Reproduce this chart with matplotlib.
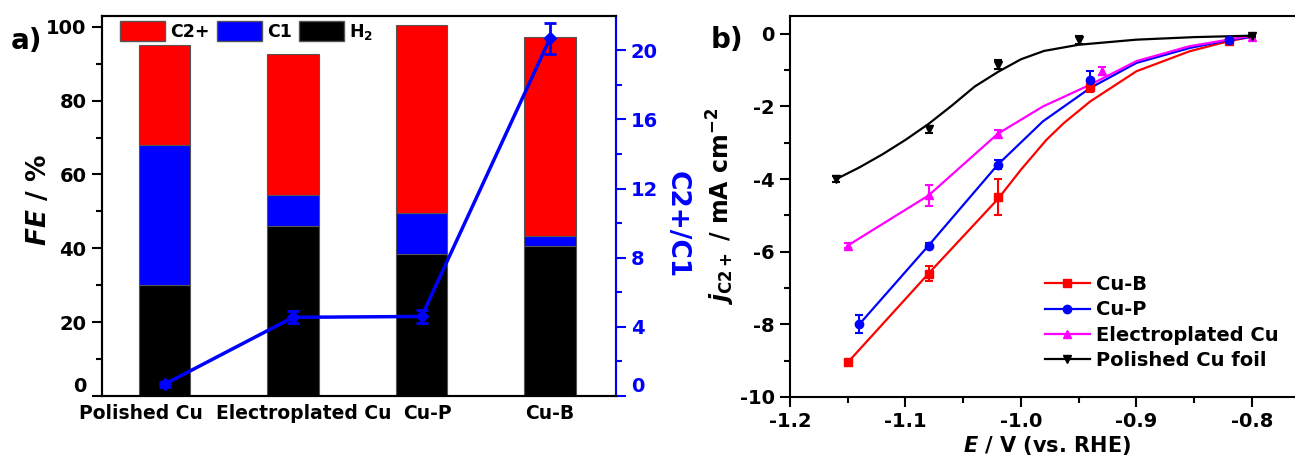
import numpy as np
import matplotlib.pyplot as plt
from matplotlib.lines import Line2D
from matplotlib.patches import Patch
from matplotlib.transforms import ScaledTranslation

plt.rcParams['font.family'] = 'DejaVu Sans'
plt.rcParams['font.weight'] = 'bold'
plt.rcParams['axes.labelweight'] = 'bold'
plt.rcParams['mathtext.fontset'] = 'custom'
plt.rcParams['mathtext.rm'] = 'DejaVu Sans:bold'
plt.rcParams['mathtext.bf'] = 'DejaVu Sans:bold'
plt.rcParams['mathtext.it'] = 'DejaVu Sans:italic:bold'

# ---- panel a: Faradaic efficiency and C2+/C1 ratio ----
samples = ['Polished Cu', 'Electroplated Cu', 'Cu-P', 'Cu-B']
fe_h2 = [30, 46, 38.5, 40.7]
fe_c1 = [38, 8.5, 11, 2.5]
fe_c2 = [27, 38, 51, 54]
ratio = [0.68, 4.55, 4.6, 20.7]
ratio_err = [0.15, 0.35, 0.35, 0.9]
label_shift = [-24, 11, 6, 0]  # px offsets of the category labels

# ---- panel b: partial current density of C2+ ----
cuB_E = [-1.15, -1.08, -1.02, -0.94, -0.82]
cuB_j = [-9.05, -6.6, -4.5, -1.45, -0.2]
cuB_err = [0.1, 0.2, 0.5, 0.15, 0.05]
cuP_E = [-1.14, -1.08, -1.02, -0.94, -0.82]
cuP_j = [-8.0, -5.83, -3.6, -1.27, -0.18]
cuP_err = [0.25, 0.08, 0.12, 0.25, 0.05]
elec_E = [-1.15, -1.08, -1.02, -0.93, -0.80]
elec_j = [-5.83, -4.45, -2.75, -1.02, -0.08]
elec_err = [0.08, 0.3, 0.1, 0.1, 0.03]
pol_E = [-1.16, -1.08, -1.02, -0.95, -0.80]
pol_j = [-4.0, -2.63, -0.85, -0.17, -0.05]
pol_err = [0.08, 0.1, 0.12, 0.1, 0.03]

# smoothed guide curves as drawn in the figure
cuB_curve_E = [-1.15, -1.08, -1.02, -1.0, -0.978, -0.963, -0.94, -0.9, -0.854, -0.82, -0.8]
cuB_curve_j = [-9.05, -6.6, -4.55, -3.74, -2.92, -2.46, -1.86, -1.03, -0.48, -0.2, -0.08]
cuP_curve_E = [-1.14, -1.08, -1.02, -0.981, -0.94, -0.9, -0.854, -0.82, -0.8]
cuP_curve_j = [-8.0, -5.83, -3.6, -2.41, -1.49, -0.8, -0.39, -0.17, -0.08]
elec_curve_E = [-1.15, -1.08, -1.02, -0.981, -0.94, -0.9, -0.854, -0.8]
elec_curve_j = [-5.83, -4.45, -2.75, -2.0, -1.4, -0.75, -0.34, -0.05]
pol_curve_E = [-1.16, -1.14, -1.12, -1.10, -1.08, -1.06, -1.04, -1.02, -1.00,
               -0.98, -0.95, -0.90, -0.85, -0.80]
pol_curve_j = [-4.0, -3.68, -3.32, -2.92, -2.48, -1.98, -1.45, -1.05, -0.7,
               -0.47, -0.3, -0.16, -0.09, -0.05]

fig = plt.figure(figsize=(12.95, 4.59), dpi=100)

# ================= panel a =================
ax = fig.add_axes([0.0785, 0.1373, 0.3969, 0.8285])
x = np.arange(1, len(samples) + 1)
w = 0.4
ec = '#555555'
ax.bar(x, fe_h2, w, color='black', edgecolor=ec, linewidth=0.8)
ax.bar(x, fe_c1, w, bottom=fe_h2, color='#0000FF', edgecolor=ec, linewidth=0.8)
ax.bar(x, fe_c2, w, bottom=np.add(fe_h2, fe_c1), color='#FF0000', edgecolor=ec, linewidth=0.8)
ax.set_xlim(0.51, 4.51)
ax.set_ylim(0, 103)
ax.set_yticks([0, 20, 40, 60, 80, 100])
ax.set_yticks([10, 30, 50, 70, 90], minor=True)
ax.set_xticks(x)
ax.set_xticklabels(samples, fontsize=13.5)
ax.tick_params(axis='x', length=0, pad=6)
ax.tick_params(axis='y', which='major', direction='out', length=7, width=1.5, labelsize=14, pad=4)
ax.tick_params(axis='y', which='minor', direction='out', length=4, width=1.5)
for t, dx in zip(ax.get_xticklabels(), label_shift):
    t.set_transform(t.get_transform() + ScaledTranslation(dx / 100, 0, fig.dpi_scale_trans))
for sp in ax.spines.values():
    sp.set_linewidth(1.5)
ax.set_ylabel(r'$\mathit{FE}$ / %', fontsize=19)
ax.yaxis.set_label_coords(-0.097, 0.515)
ax.yaxis.get_major_ticks()[0].label1.set_verticalalignment('bottom')

leg_handles = [Patch(facecolor='#FF0000', edgecolor=ec),
               Patch(facecolor='#0000FF', edgecolor=ec),
               Patch(facecolor='black', edgecolor=ec)]
ax.legend(leg_handles, ['C2+', 'C1', r'H$_2$'], ncol=3, fontsize=12.5, frameon=False,
          loc='upper left', bbox_to_anchor=(0.036, 0.985), borderpad=0, borderaxespad=0,
          handlelength=2.6, handleheight=1.35, handletextpad=0.3, columnspacing=0.4)

ax2 = ax.twinx()
ax2.errorbar(x, ratio, yerr=ratio_err, color='#0000FF', marker='D', ms=6, lw=2.5,
             capsize=4, capthick=2, elinewidth=2)
ax2.set_ylim(0, 22)
ax2.set_yticks([0, 4, 8, 12, 16, 20])
ax2.set_yticks([2, 6, 10, 14, 18], minor=True)
ax2.tick_params(axis='y', which='major', direction='out', length=7, width=1.5,
                labelsize=14, colors='#0000FF', pad=4)
ax2.tick_params(axis='y', which='minor', direction='out', length=4, width=1.5, colors='#0000FF')
for sp in ax2.spines.values():
    sp.set_linewidth(1.5)
ax2.spines['right'].set_color('#0000FF')
ax2.set_ylabel('C2+/C1', fontsize=19, color='#0000FF', rotation=270, va='bottom')
ax2.yaxis.set_label_coords(1.094, 0.45)
ax2.yaxis.get_major_ticks()[0].label2.set_verticalalignment('bottom')

fig.text(27 / 1295, 1 - 41 / 459, 'a)', fontsize=20, ha='center', va='center')

# ================= panel b =================
bx = fig.add_axes([0.6100, 0.1351, 0.3969, 0.8307])
series = [
    ('Cu-B', cuB_E, cuB_j, cuB_err, cuB_curve_E, cuB_curve_j, '#FF0000', 's'),
    ('Cu-P', cuP_E, cuP_j, cuP_err, cuP_curve_E, cuP_curve_j, '#0000FF', 'o'),
    ('Electroplated Cu', elec_E, elec_j, elec_err, elec_curve_E, elec_curve_j, '#FF00FF', '^'),
    ('Polished Cu foil', pol_E, pol_j, pol_err, pol_curve_E, pol_curve_j, 'black', 'v'),
]
handles = []
for name, E, j, err, cE, cj, col, mk in series:
    bx.plot(cE, cj, color=col, lw=1.6)
    bx.errorbar(E, j, yerr=err, fmt=mk, color=col, ms=6, capsize=3,
                capthick=1.5, elinewidth=1.5)
    handles.append(Line2D([], [], color=col, marker=mk, ms=6, lw=1.6))

bx.set_xlim(-1.2, -0.755)
bx.set_ylim(-10, 0.5)
bx.set_xticks([-1.2, -1.1, -1.0, -0.9, -0.8])
bx.set_xticks([-1.15, -1.05, -0.95, -0.85], minor=True)
bx.set_yticks([-10, -8, -6, -4, -2, 0])
bx.set_yticks([-9, -7, -5, -3, -1], minor=True)
bx.set_xticklabels(['-1.2', '-1.1', '-1.0', '-0.9', '-0.8'])
bx.set_yticklabels(['-10', '-8', '-6', '-4', '-2', '0'])
bx.tick_params(which='major', direction='out', length=7, width=1.5, labelsize=14, pad=4)
bx.tick_params(which='minor', direction='out', length=4, width=1.5)
for sp in bx.spines.values():
    sp.set_linewidth(1.5)
bx.set_xlabel(r'$\mathit{E}$ / V (vs. RHE)', fontsize=15, labelpad=2)
bx.set_ylabel(r'$\mathit{j}_{\mathrm{C2+}}$ / mA cm$^{\mathrm{-2}}$', fontsize=17)
bx.yaxis.set_label_coords(-0.103, 0.5)
bx.legend(handles, [s[0] for s in series], fontsize=14, frameon=False,
          loc='upper left', bbox_to_anchor=(0.496, 0.32), borderpad=0, borderaxespad=0,
          handlelength=2.3, handletextpad=0.35, labelspacing=0.33)

fig.text(727 / 1295, 1 - 40 / 459, 'b)', fontsize=20, ha='center', va='center')

fig.savefig('out.png', dpi=100)
